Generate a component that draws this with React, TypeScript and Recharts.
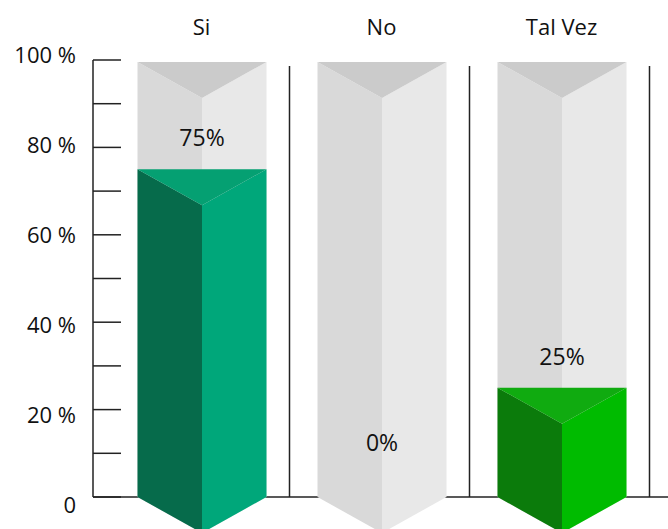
import { BarChart, Bar, XAxis, YAxis, CartesianGrid, LabelList } from "recharts";

const categories = ["Si", "No", "Tal Vez"];
const values = [75, 0, 25];
const valueLabels = ["75%", "0%", "25%"];
const yTicks = [0, 10, 20, 30, 40, 50, 60, 70, 80, 90, 100];

const barColors = [
  { top: "#05a072", left: "#066b4b", right: "#00a77a" },
  { top: "#cbcbcb", left: "#d9d9d9", right: "#e8e8e8" },
  { top: "#10ab10", left: "#0b7b0b", right: "#00bb00" },
];
const grayColors = { top: "#cbcbcb", left: "#d9d9d9", right: "#e8e8e8" };

const data = categories.map((name, i) => ({ name, value: values[i], label: valueLabels[i] }));

const FONT = "'Open Sans', sans-serif";
const DEPTH = 36;

function prism(x: number, top: number, w: number, bottom: number, c: any) {
  const cx = x + w / 2;
  return (
    <g>
      <polygon points={`${x},${top} ${cx},${top + DEPTH} ${cx},${bottom + DEPTH} ${x},${bottom}`} fill={c.left} />
      <polygon points={`${cx},${top + DEPTH} ${x + w},${top} ${x + w},${bottom} ${cx},${bottom + DEPTH}`} fill={c.right} />
      <polygon points={`${x},${top} ${x + w},${top} ${cx},${top + DEPTH}`} fill={c.top} />
    </g>
  );
}

const Column = (props: any) => {
  const { x, y, width, height } = props;
  return (
    <g>
      {prism(x, y + 2, width, y + height, grayColors)}
      <line x1={x + width + 23} x2={x + width + 23} y1={y + 6} y2={y + height} stroke="#222" strokeWidth={1.5} />
    </g>
  );
};

const FilledBar = (props: any) => {
  const { x, y, width, height, index } = props;
  if (!height || height <= 0) return null;
  return prism(x, y, width, y + height, barColors[index]);
};

const YTick = (props: any) => {
  const { x, y, payload } = props;
  const v = payload.value;
  const label = v % 20 === 0 ? (v === 0 ? "0" : `${v} %`) : null;
  return (
    <g>
      <line x1={x} x2={x + 28} y1={y} y2={y} stroke="#222" strokeWidth={1.5} />
      {label && (
        <text x={x - 17} y={y} dy={16 - 0.13 * v} textAnchor="end" fontFamily={FONT} fontSize={22} fill="#111">
          {label}
        </text>
      )}
    </g>
  );
};

const XTick = (props: any) => {
  const { x, y, payload } = props;
  return (
    <text x={x} y={y - 25} textAnchor="middle" fontFamily={FONT} fontSize={22} fill="#111">
      {payload.value}
    </text>
  );
};

const ValueLabel = (props: any) => {
  const { x, y, width, value, index } = props;
  const dy = values[index] === 0 ? -46 : -23;
  return (
    <text x={x + width / 2} y={y + dy} textAnchor="middle" fontFamily={FONT} fontSize={23} fill="#111">
      {value}
    </text>
  );
};

export default function App() {
  return (
    <div style={{ position: "absolute", left: 0, top: 0, background: "#fff" }}>
      <BarChart width={668} height={529} data={data} margin={{ top: 0, right: 0, bottom: 32, left: 0 }}>
        <CartesianGrid
          vertical={false}
          stroke="#222"
          strokeWidth={1.5}
          horizontalCoordinatesGenerator={({ offset }: any) => [offset.top + offset.height]}
        />
        <XAxis
          dataKey="name"
          orientation="top"
          height={60}
          axisLine={false}
          tickLine={false}
          tickSize={0}
          tickMargin={0}
          padding={{ left: 18.5, right: 16.5 }}
          tick={<XTick />}
          interval={0}
        />
        <YAxis
          domain={[0, 100]}
          ticks={yTicks}
          width={93}
          tickSize={0}
          tickMargin={0}
          tickLine={false}
          axisLine={{ stroke: "#222", strokeWidth: 1.5 }}
          tick={<YTick />}
          interval={0}
        />
        <Bar dataKey="value" barSize={129} isAnimationActive={false} background={<Column />} shape={<FilledBar />}>
          <LabelList dataKey="label" content={<ValueLabel />} />
        </Bar>
      </BarChart>
    </div>
  );
}
